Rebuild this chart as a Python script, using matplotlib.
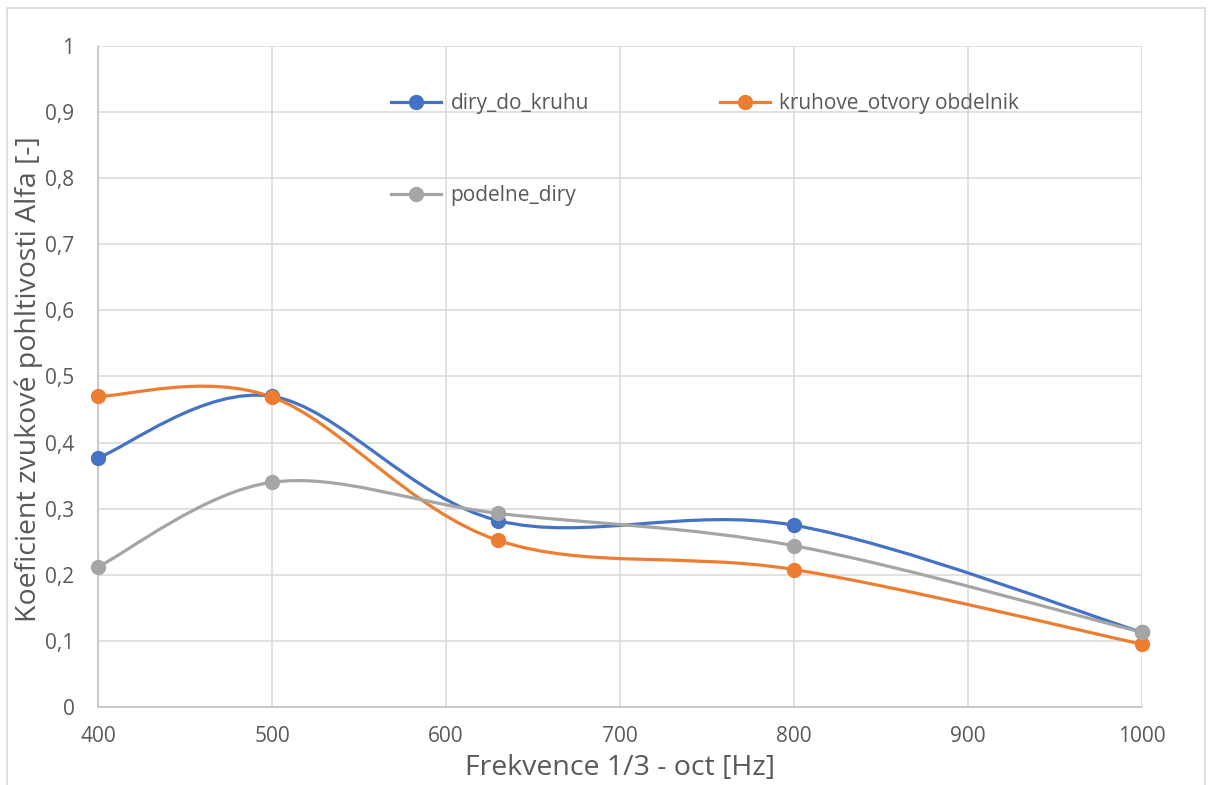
import matplotlib
matplotlib.use("Agg")
import matplotlib.pyplot as plt
from matplotlib.path import Path
from matplotlib.patches import PathPatch, Rectangle
from matplotlib.lines import Line2D
from matplotlib.ticker import FuncFormatter, MultipleLocator

plt.rcParams["font.family"] = ["Open Sans", "DejaVu Sans"]

# data
freq = [400, 500, 630, 800, 1000]
diry_do_kruhu = [0.377, 0.470, 0.282, 0.275, 0.113]
kruhove_otvory = [0.470, 0.469, 0.252, 0.208, 0.095]
podelne_diry = [0.212, 0.340, 0.293, 0.244, 0.113]

series_names = ["diry_do_kruhu", "kruhove_otvory obdelnik", "podelne_diry"]
series_colors = ["#4472C4", "#ED7D31", "#A5A5A5"]

TXT = "#595959"
GRID = "#D9D9D9"


def smooth_path(xs, ys):
    # Excel-like smoothed line: cubic Bezier segments, Catmull-Rom control points
    pts = list(zip(xs, ys))
    n = len(pts)
    verts = [pts[0]]
    codes = [Path.MOVETO]
    for i in range(n - 1):
        p0 = pts[i - 1] if i > 0 else pts[i]
        p1 = pts[i]
        p2 = pts[i + 1]
        p3 = pts[i + 2] if i + 2 < n else pts[i + 1]
        c1 = (p1[0] + (p2[0] - p0[0]) / 6, p1[1] + (p2[1] - p0[1]) / 6)
        c2 = (p2[0] - (p3[0] - p1[0]) / 6, p2[1] - (p3[1] - p1[1]) / 6)
        verts += [c1, c2, p2]
        codes += [Path.CURVE4] * 3
    return Path(verts, codes)


def main():
    W, H = 1212, 785
    fig = plt.figure(figsize=(W / 100, H / 100), dpi=100)
    ax = fig.add_axes([98 / W, 1 - 707 / H, (1142 - 98) / W, (707 - 46) / H])

    # chart area border
    fig.patches.append(Rectangle((7 / W, -0.01), (1205 - 7) / W, 1 - 8 / H + 0.01,
                                 transform=fig.transFigure, fill=False,
                                 edgecolor="#D9D9D9", lw=1.2))

    ax.set_xlim(400, 1000)
    ax.set_ylim(0, 1)
    ax.xaxis.set_major_locator(MultipleLocator(100))
    ax.yaxis.set_major_locator(MultipleLocator(0.1))
    ax.yaxis.set_major_formatter(FuncFormatter(
        lambda v, p: "0" if abs(v) < 1e-9 else ("1" if abs(v - 1) < 1e-9 else f"{v:.1f}".replace(".", ","))))
    ax.grid(True, color=GRID, lw=1.1)
    ax.set_axisbelow(True)
    for s in ["top", "right"]:
        ax.spines[s].set_visible(False)
    for s in ["left", "bottom"]:
        ax.spines[s].set_color("#BFBFBF")
        ax.spines[s].set_linewidth(1.1)
    ax.tick_params(length=0, labelsize=15, colors=TXT)
    ax.tick_params(axis="x", pad=14)
    ax.tick_params(axis="y", pad=17)

    all_series = [diry_do_kruhu, kruhove_otvory, podelne_diry]
    handles = []
    for name, ys, col in zip(series_names, all_series, series_colors):
        ax.add_patch(PathPatch(smooth_path(freq, ys), fill=False, edgecolor=col,
                               lw=2.3, capstyle="round", joinstyle="round", zorder=3))
        ax.plot(freq, ys, linestyle="none", marker="o", ms=10, color=col,
                clip_on=False, zorder=4)
        handles.append(Line2D([], [], color=col, lw=2.3, marker="o", ms=10, label=name))

    ax.set_xlabel("Frekvence 1/3 - oct [Hz]", fontsize=20.5, color=TXT, va="center")
    ax.set_ylabel("Koeficient zvukové pohltivosti Alfa [-]", fontsize=20.5, color=TXT, va="center")
    ax.xaxis.set_label_coords(620 / W, 1 - 768 / H, transform=fig.transFigure)
    ax.yaxis.set_label_coords(29 / W, 1 - 379 / H, transform=fig.transFigure)

    # legend: two columns, row-wise order like Excel
    order = [0, 2, 1]
    leg = ax.legend([handles[i] for i in order], [series_names[i] for i in order],
                    ncol=2, frameon=False, fontsize=15, labelcolor=TXT,
                    loc="upper left", bbox_to_anchor=(391 / W, 1 - 93 / H),
                    bbox_transform=fig.transFigure, borderpad=0, borderaxespad=0,
                    handlelength=2.4, handletextpad=0.45, columnspacing=6.3,
                    labelspacing=3.4)

    fig.savefig("out.png", dpi=100)
    plt.close(fig)


if __name__ == "__main__":
    main()
